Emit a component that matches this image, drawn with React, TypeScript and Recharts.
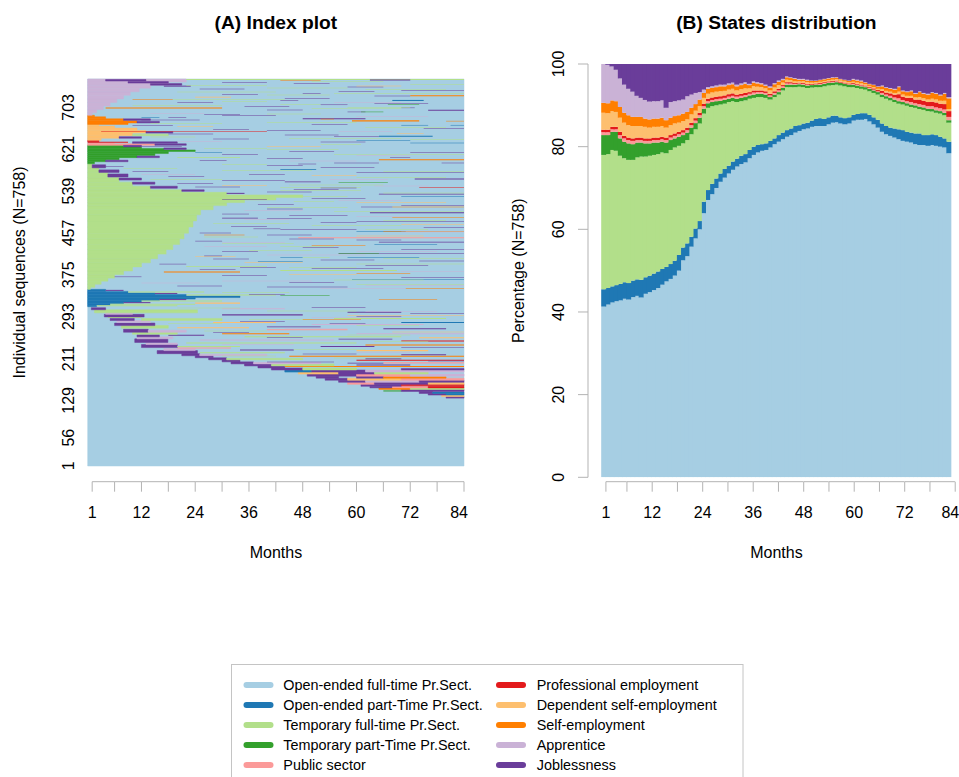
import React from 'react';
import { BarChart, Bar, ComposedChart, XAxis, YAxis, ReferenceArea } from 'recharts';

const FONT = '"Liberation Sans", Arial, Helvetica, sans-serif';
const AXIS_GREY = '#b3b3b3';

// Employment states (legend order = stacking order)
const STATES = [
  { name: 'Open-ended full-time Pr.Sect.', color: '#A6CEE3' },
  { name: 'Open-ended part-Time Pr.Sect.', color: '#1F78B4' },
  { name: 'Temporary full-time Pr.Sect.', color: '#B2DF8A' },
  { name: 'Temporary part-Time Pr.Sect.', color: '#33A02C' },
  { name: 'Public sector', color: '#FB9A99' },
  { name: 'Professional employment', color: '#E31A1C' },
  { name: 'Dependent self-employment', color: '#FDBF6F' },
  { name: 'Self-employment', color: '#FF7F00' },
  { name: 'Apprentice', color: '#CAB2D6' },
  { name: 'Joblessness', color: '#6A3D9A' },
];

const N_SEQ = 758;
const N_MONTHS = 84;
const MONTHS = Array.from({ length: N_MONTHS }, (_, i) => i + 1);
const X_TICKS = [1, 6, 12, 18, 24, 30, 36, 42, 48, 54, 60, 66, 72, 78, 84];
const X_LABELS = [1, 12, 24, 36, 48, 60, 72, 84];
const INDEX_TICKS = [1, 56, 129, 211, 293, 375, 457, 539, 621, 703];
const PCT_TICKS = [0, 20, 40, 60, 80, 100];

// ---- (B) monthly state distribution, percent of the 758 sequences ----
const OEFT = [
  41.3, 41.8, 42.3, 42.6, 42.8, 43.2, 43.0, 43.6, 43.9, 43.5,
  44.4, 44.8, 45.3, 45.8, 46.6, 47.4, 48.0, 48.8, 50.0, 52.5,
  53.5, 55.8, 57.8, 60.0, 63.9, 67.1, 68.5, 70.0, 71.5, 72.5,
  73.5, 74.4, 75.2, 75.8, 76.2, 77.2, 78.0, 78.6, 79.0, 79.2,
  79.8, 80.6, 81.2, 81.8, 82.4, 82.8, 83.4, 83.8, 84.2, 84.4,
  84.8, 85.0, 85.0, 85.0, 85.4, 85.8, 85.9, 85.6, 85.4, 85.6,
  86.3, 86.5, 86.5, 86.7, 86.1, 85.4, 84.6, 83.6, 83.0, 82.6,
  82.2, 81.8, 81.4, 81.2, 81.0, 80.6, 80.4, 80.4, 80.2, 80.4,
  80.2, 80.0, 79.8, 78.4,
];
const OEPT = [
  4.2, 4.0, 3.9, 3.9, 4.0, 4.0, 4.0, 4.0, 4.0, 4.3,
  4.0, 4.0, 4.0, 4.0, 3.8, 3.5, 3.6, 3.6, 3.8, 3.1,
  3.1, 2.4, 2.4, 2.0, 2.8, 2.4, 2.5, 2.3, 2.0, 2.1,
  1.9, 2.0, 1.9, 2.0, 2.0, 2.0, 2.0, 1.8, 1.6, 1.6,
  1.6, 1.4, 1.6, 1.6, 1.6, 1.6, 1.6, 1.4, 1.4, 1.4,
  1.5, 1.7, 1.9, 1.7, 1.7, 1.7, 1.6, 1.5, 1.5, 1.5,
  1.4, 1.4, 1.6, 1.4, 1.6, 1.7, 1.9, 2.0, 2.0, 2.0,
  2.2, 2.4, 2.6, 2.4, 2.4, 2.6, 2.8, 2.4, 2.6, 2.6,
  2.6, 2.4, 2.2, 2.8,
];
const TFT = [
  32.5, 32.4, 33.0, 32.5, 31.0, 30.0, 29.8, 29.2, 29.5, 29.8,
  29.2, 29.0, 28.7, 28.4, 28.2, 27.5, 27.6, 27.4, 26.4, 25.2,
  25.0, 24.8, 24.0, 23.6, 21.3, 19.9, 18.8, 17.7, 16.7, 15.8,
  15.4, 14.6, 13.7, 13.2, 13.0, 12.4, 11.8, 11.6, 11.4, 11.0,
  10.0, 10.0, 9.8, 10.2, 10.4, 10.0, 9.4, 9.3, 8.8, 8.4,
  8.0, 7.7, 7.5, 7.9, 7.7, 7.4, 7.5, 7.7, 7.7, 7.3,
  6.7, 6.3, 5.9, 5.7, 5.7, 5.9, 6.1, 6.4, 6.6, 6.6,
  6.4, 6.2, 6.2, 6.3, 6.2, 6.2, 5.9, 6.1, 5.8, 5.5,
  5.4, 5.6, 5.6, 4.6,
];
const TPT = [
  4.8, 4.6, 4.4, 4.6, 4.2, 4.0, 4.0, 3.8, 3.6, 3.4,
  3.2, 3.0, 3.0, 2.8, 2.6, 2.6, 2.4, 2.2, 2.2, 2.0,
  1.8, 1.6, 1.5, 1.4, 1.2, 1.1, 1.0, 1.0, 0.9, 0.9,
  0.8, 0.8, 0.8, 0.8, 0.8, 0.8, 0.8, 0.8, 0.8, 0.8,
  0.6, 0.6, 0.6, 0.6, 0.6, 0.6, 0.6, 0.6, 0.6, 0.6,
  0.6, 0.6, 0.6, 0.6, 0.6, 0.6, 0.6, 0.6, 0.6, 0.6,
  0.6, 0.6, 0.6, 0.6, 0.6, 0.6, 0.6, 0.6, 0.6, 0.6,
  0.6, 0.6, 0.6, 0.6, 0.6, 0.6, 0.6, 0.6, 0.6, 0.6,
  0.6, 0.6, 0.6, 0.6,
];
const PUB = [
  0.7, 0.7, 0.6, 0.6, 0.8, 0.8, 0.8, 0.8, 0.6, 0.6,
  0.6, 0.6, 0.6, 0.6, 0.6, 0.6, 0.6, 0.6, 0.6, 0.6,
  0.6, 0.6, 0.6, 0.6, 0.6, 0.5, 0.5, 0.5, 0.5, 0.5,
  0.5, 0.5, 0.5, 0.5, 0.5, 0.4, 0.5, 0.4, 0.4, 0.4,
  0.4, 0.4, 0.4, 0.4, 0.3, 0.3, 0.2, 0.2, 0.2, 0.2,
  0.1, 0.1, 0.2, 0.2, 0.2, 0.2, 0.2, 0.1, 0.1, 0.1,
  0.2, 0.2, 0.2, 0.2, 0.2, 0.2, 0.2, 0.4, 0.4, 0.5,
  0.5, 0.7, 0.5, 0.5, 0.6, 0.5, 0.6, 0.6, 0.6, 0.7,
  0.7, 0.7, 0.8, 0.8,
];
const PROF = [
  0.6, 0.6, 0.6, 0.6, 0.8, 0.6, 0.6, 0.6, 0.6, 0.6,
  0.6, 0.6, 0.6, 0.6, 0.6, 0.6, 0.6, 0.6, 0.6, 0.6,
  0.6, 0.6, 0.6, 0.6, 0.6, 0.6, 0.6, 0.6, 0.6, 0.6,
  0.6, 0.6, 0.5, 0.5, 0.5, 0.4, 0.5, 0.4, 0.4, 0.4,
  0.4, 0.4, 0.4, 0.3, 0.3, 0.3, 0.2, 0.2, 0.2, 0.2,
  0.2, 0.2, 0.2, 0.2, 0.2, 0.2, 0.2, 0.2, 0.2, 0.2,
  0.2, 0.2, 0.2, 0.2, 0.2, 0.3, 0.3, 0.5, 0.5, 0.6,
  0.7, 1.0, 0.8, 0.8, 1.0, 0.9, 1.1, 1.0, 1.0, 1.1,
  1.2, 1.1, 1.3, 1.4,
];
const DSE = [
  4.1, 4.0, 3.8, 3.6, 3.4, 3.2, 3.0, 3.0, 2.8, 2.8,
  2.8, 2.6, 2.6, 2.6, 2.6, 2.4, 2.4, 2.4, 2.2, 2.2,
  2.0, 2.0, 1.8, 1.6, 1.4, 1.2, 1.2, 1.2, 1.2, 1.1,
  1.1, 1.1, 1.0, 1.1, 1.1, 0.9, 1.0, 0.9, 0.8, 0.7,
  0.8, 0.9, 0.9, 0.6, 0.6, 0.5, 0.4, 0.3, 0.4, 0.4,
  0.3, 0.3, 0.3, 0.3, 0.3, 0.3, 0.3, 0.3, 0.3, 0.3,
  0.3, 0.3, 0.3, 0.3, 0.3, 0.3, 0.3, 0.4, 0.4, 0.4,
  0.4, 0.6, 0.5, 0.5, 0.5, 0.5, 0.6, 0.6, 0.6, 0.7,
  0.7, 0.7, 0.8, 0.5,
];
const SE = [
  2.4, 2.4, 2.6, 2.6, 2.6, 2.4, 2.4, 2.2, 2.2, 2.2,
  2.0, 2.0, 2.0, 2.0, 2.0, 1.8, 1.8, 1.8, 1.8, 1.8,
  1.8, 1.6, 1.6, 1.6, 1.2, 1.2, 1.1, 1.1, 1.2, 1.1,
  1.1, 1.1, 1.0, 1.0, 1.1, 0.8, 0.9, 0.8, 0.7, 0.6,
  0.7, 0.8, 0.8, 0.6, 0.6, 0.5, 0.6, 0.4, 0.4, 0.4,
  0.4, 0.3, 0.4, 0.4, 0.4, 0.4, 0.4, 0.3, 0.3, 0.3,
  0.5, 0.5, 0.5, 0.4, 0.4, 0.5, 0.5, 0.7, 0.7, 0.7,
  0.8, 1.1, 0.8, 0.9, 1.1, 0.9, 1.2, 1.1, 1.2, 1.4,
  1.4, 1.3, 1.7, 2.6,
];
const APP = [
  9.4, 9.3, 8.2, 7.6, 6.9, 6.8, 6.4, 6.1, 5.1, 4.6,
  4.5, 4.3, 4.2, 4.2, 4.2, 3.0, 3.8, 3.6, 3.6, 3.4,
  3.8, 3.2, 2.7, 1.8, 0.8, 0.4, 0.4, 0.4, 0.4, 0.4,
  0.4, 0.4, 0.4, 0.4, 0.4, 0.3, 0.3, 0.3, 0.3, 0.3,
  0.3, 0.3, 0.3, 0.3, 0.2, 0.2, 0.2, 0.2, 0.2, 0.2,
  0.1, 0.1, 0.1, 0.1, 0.1, 0.2, 0.1, 0.1, 0.1, 0.1,
  0.2, 0.2, 0.2, 0.1, 0.1, 0.1, 0.1, 0.2, 0.2, 0.2,
  0.2, 0.2, 0.2, 0.2, 0.2, 0.2, 0.2, 0.2, 0.2, 0.2,
  0.2, 0.2, 0.2, 0.3,
];
const JOB = [
  0.0, 0.2, 0.6, 1.4, 3.5, 5.0, 6.0, 6.7, 7.7, 8.2,
  8.7, 9.1, 9.0, 9.0, 8.8, 10.6, 9.2, 9.0, 8.8, 8.6,
  7.8, 7.4, 7.0, 6.8, 6.2, 5.6, 5.4, 5.2, 5.0, 5.0,
  4.7, 4.5, 5.0, 4.7, 4.4, 4.8, 4.2, 4.4, 4.6, 5.0,
  5.4, 4.6, 4.0, 3.6, 3.0, 3.2, 3.4, 3.6, 3.6, 3.8,
  4.0, 4.0, 3.8, 3.6, 3.4, 3.2, 3.2, 3.6, 3.8, 4.0,
  3.6, 3.8, 4.0, 4.4, 4.8, 5.0, 5.4, 5.2, 5.6, 5.8,
  6.0, 5.4, 6.4, 6.6, 6.4, 7.0, 6.6, 7.0, 7.2, 6.8,
  7.0, 7.4, 7.0, 8.0,
];
const SERIES = [OEFT, OEPT, TFT, TPT, PUB, PROF, DSE, SE, APP, JOB];

// ---- (A) index plot spells: [state, firstRow, lastRow, startMonth, endMonth] ----
type Spell = [number, number, number, number, number];

const BASE_SPELLS: Spell[] = [[0, 0, 758, 0, 84]];

// spells in progress at the start of the window
const ENTRY_SPELLS: Spell[] = [
  [1, 312, 315, 0, 2], [1, 315, 318, 0, 5], [1, 318, 321, 0, 8], [1, 321, 324, 0, 12], [1, 324, 327, 0, 16],
  [1, 327, 330, 0, 24], [1, 330, 333, 0, 34], [1, 333, 336, 0, 22], [1, 336, 339, 0, 15], [1, 339, 342, 0, 9],
  [1, 342, 346, 0, 4],
  [2, 346, 350, 0, 0.6], [2, 350, 356, 0, 1.6], [2, 356, 362, 0, 3], [2, 362, 368, 0, 4.5], [2, 368, 375, 0, 6],
  [2, 375, 382, 0, 8], [2, 382, 390, 0, 10], [2, 390, 398, 0, 12], [2, 398, 406, 0, 14], [2, 406, 415, 0, 15.6],
  [2, 415, 424, 0, 17.5], [2, 424, 434, 0, 19], [2, 434, 445, 0, 20.5], [2, 445, 456, 0, 21.5], [2, 456, 468, 0, 22.5],
  [2, 468, 480, 0, 23.5], [2, 480, 492, 0, 24.3], [2, 492, 502, 0, 25.2], [2, 502, 510, 0, 28], [2, 510, 516, 0, 31],
  [2, 516, 521, 0, 35], [2, 521, 526, 0, 42], [2, 526, 531, 0, 48], [2, 531, 536, 0, 31], [2, 536, 541, 0, 21],
  [2, 541, 548, 0, 14], [2, 548, 556, 0, 10], [2, 556, 565, 0, 7], [2, 565, 575, 0, 4.5], [2, 575, 584, 0, 2.5],
  [2, 584, 592, 0, 1], [2, 528, 529, 48, 58],
  [3, 592, 596, 0, 1.5], [3, 596, 600, 0, 4], [3, 600, 604, 0, 7], [3, 604, 608, 0, 11], [3, 608, 612, 0, 15],
  [3, 612, 616, 0, 18], [3, 616, 619, 0, 24], [3, 619, 622, 0, 17], [3, 622, 625, 0, 12], [3, 625, 628, 0, 8],
  [4, 628, 631, 0, 15], [4, 631, 633, 0, 6], [5, 633, 635, 0, 9], [5, 635, 638, 0, 2.5],
  [6, 638, 642, 0, 3], [6, 642, 647, 0, 7], [6, 647, 652, 0, 10], [6, 652, 657, 0, 13], [6, 657, 662, 0, 11],
  [6, 662, 666, 0, 6], [6, 666, 669, 0, 2.5],
  [7, 669, 672, 0, 9], [7, 672, 676, 0, 11], [7, 676, 680, 0, 8], [7, 680, 684, 0, 4], [7, 684, 687, 0, 1.5],
  [8, 687, 692, 0, 1], [8, 692, 698, 0, 2], [8, 698, 705, 0, 3.5], [8, 705, 712, 0, 5], [8, 712, 719, 0, 6.5],
  [8, 719, 726, 0, 8], [8, 726, 733, 0, 9.5], [8, 733, 740, 0, 11.5], [8, 740, 746, 0, 14], [8, 746, 752, 0, 18],
  [8, 752, 758, 0, 22],
];

// first spells after leaving the initial state
const FOLLOW_SPELLS: Spell[] = [
  [9, 584, 590, 1, 4], [9, 575, 580, 2.5, 7], [9, 566, 572, 4.5, 9], [9, 560, 564, 7, 12], [9, 552, 556, 10, 15],
  [9, 544, 548, 14, 20], [9, 538, 541, 21, 26], [9, 533, 535, 31, 35],
  [9, 625, 628, 8, 12], [9, 620, 623, 17, 22], [9, 604, 607, 11, 16], [9, 596, 599, 4, 9],
  [9, 628, 631, 15, 22], [9, 632, 635, 10, 20],
  [9, 642, 645, 7, 12], [9, 652, 655, 13, 19], [2, 647, 650, 10, 18],
  [9, 672, 675, 11, 16], [9, 677, 680, 8, 14],
  [9, 754, 757, 4, 13], [9, 750, 753, 9, 18], [9, 746, 749, 14, 21], [9, 743, 745, 17, 23], [2, 756, 758, 22, 84],
  [2, 313, 315, 2, 20], [2, 316, 318, 5, 24], [9, 319, 321, 8, 14], [2, 322, 324, 12, 30], [9, 325, 327, 16, 22],
  [6, 318, 320, 24, 34], [2, 334, 336, 22, 42], [9, 337, 339, 15, 20], [2, 340, 342, 9, 26], [9, 343, 345, 4, 8],
];

// sequences leaving open-ended full-time employment
const EXIT_SPELLS: Spell[] = [
  [9, 133, 136, 80, 84], [6, 136, 139, 79, 84], [9, 139, 142, 76, 80], [1, 139, 142, 80, 84],
  [9, 142, 146, 74, 77], [1, 142, 145, 77, 84], [3, 146, 148, 66, 70], [9, 146, 150, 70, 84],
  [7, 150, 153, 65, 72], [2, 150, 153, 72, 84], [9, 153, 156, 63, 68], [4, 153, 156, 68, 76], [5, 153, 156, 76, 84],
  [9, 156, 160, 61, 70], [5, 157, 160, 70, 84], [4, 160, 164, 58, 64], [9, 160, 164, 64, 76], [6, 160, 164, 76, 84],
  [9, 164, 168, 56, 62], [8, 164, 168, 62, 74], [9, 164, 168, 74, 84], [9, 168, 172, 53, 58], [6, 168, 172, 58, 70],
  [4, 168, 172, 70, 84], [9, 172, 176, 51, 56], [9, 172, 176, 60, 66], [7, 172, 175, 66, 80],
  [9, 176, 180, 49, 60], [4, 176, 180, 60, 72], [8, 176, 180, 72, 84], [6, 180, 184, 47, 56], [9, 180, 184, 56, 64],
  [2, 180, 184, 64, 76], [1, 184, 188, 44, 50], [9, 184, 188, 50, 62], [8, 184, 188, 62, 84],
  [9, 188, 192, 41, 48], [2, 188, 192, 48, 60], [9, 188, 191, 70, 84], [9, 192, 196, 38, 44], [7, 194, 196, 44, 84],
  [9, 196, 200, 35, 41], [2, 196, 200, 41, 55], [9, 197, 199, 60, 72],
  [9, 200, 204, 32, 37], [8, 200, 203, 37, 52], [4, 201, 203, 66, 84], [9, 204, 208, 30, 34], [5, 206, 208, 60, 84],
  [9, 208, 212, 27, 31], [2, 208, 211, 31, 48], [9, 209, 211, 62, 70], [9, 212, 216, 24, 28], [7, 214, 216, 45, 84],
  [9, 216, 220, 21, 25], [8, 216, 219, 25, 40], [9, 217, 219, 70, 80],
  [9, 220, 226, 15.5, 24.5], [8, 226, 230, 17, 24], [2, 221, 223, 25, 44], [6, 225, 227, 60, 76], [9, 226, 228, 34, 46],
  [4, 230, 232, 20, 32], [9, 232, 238, 12, 20], [8, 238, 241, 13, 20], [2, 233, 235, 20, 34], [9, 233, 235, 52, 64],
  [7, 236, 238, 62, 84], [2, 240, 242, 22, 60], [9, 242, 249, 10.5, 17.9], [8, 249, 253, 11, 19], [9, 253, 257, 11, 16],
  [5, 244, 246, 70, 84], [8, 246, 248, 25, 55], [6, 250, 252, 74, 84],
  [2, 252, 254, 35, 70], [9, 255, 257, 18, 26], [2, 258, 262, 10, 20],
  [7, 258, 260, 30, 45], [8, 258, 260, 60, 84], [9, 262, 268, 8, 13.5], [8, 262, 266, 13.5, 22], [4, 266, 268, 40, 58],
  [9, 268, 270, 66, 80], [2, 270, 275, 7.5, 18], [6, 270, 272, 20, 36],
  [9, 275, 280, 6, 15], [8, 276, 278, 50, 75], [6, 280, 282, 28, 42], [1, 280, 282, 70, 84], [8, 281, 285, 6.5, 14],
  [9, 285, 289, 5, 10.4], [2, 285, 289, 12, 30], [2, 288, 290, 55, 80], [2, 290, 292, 4.5, 12],
  [9, 292, 297, 3.7, 12.6], [8, 297, 300, 4, 10], [9, 295, 297, 30, 48], [2, 300, 306, 1.5, 24.5], [9, 300, 302, 58, 70],
  [9, 306, 310, 0.8, 4], [8, 307, 309, 30, 44],
  [9, 203, 204, 40, 55], [2, 211, 212, 55, 70], [9, 219, 220, 48, 60], [2, 228, 229, 46, 62], [8, 238, 239, 30, 46],
  [9, 248, 249, 56, 68], [2, 264, 265, 26, 40], [9, 272, 273, 40, 52], [2, 278, 279, 18, 30], [9, 283, 284, 34, 44],
  [8, 291, 292, 50, 70], [9, 298, 299, 72, 84], [2, 303, 304, 40, 60], [9, 310, 311, 50, 62], [6, 262, 263, 68, 84],
  [9, 205, 206, 76, 84],
  [9, 201, 202, 58, 66], [2, 215, 216, 30, 42], [8, 222, 223, 60, 72], [9, 231, 232, 70, 84], [2, 243, 244, 64, 76],
  [9, 251, 252, 40, 48], [2, 256, 257, 58, 72], [9, 261, 262, 28, 36], [8, 269, 270, 44, 58], [2, 274, 275, 60, 74],
  [9, 279, 280, 54, 62], [2, 287, 288, 36, 50], [9, 293, 294, 60, 70], [8, 302, 303, 62, 78], [2, 309, 310, 20, 34],
];

// short interruptions scattered over the later months
const SCATTER_SPELLS: Spell[] = [
  [7, 755, 756, 43, 52], [9, 755, 757, 63, 72], [2, 747, 748, 72, 84], [9, 724, 725, 64, 72], [7, 724, 726, 72, 84],
  [9, 715, 716, 43, 47], [1, 715, 717, 68, 75], [2, 707, 708, 43, 52], [9, 707, 708, 52, 58], [3, 707, 708, 67, 74],
  [9, 701, 702, 70, 73], [9, 696, 698, 76, 84], [9, 693, 694, 58, 62], [3, 693, 694, 61, 66], [9, 679, 681, 48, 62],
  [7, 679, 680, 52, 55], [7, 675, 677, 59, 74], [7, 675, 676, 80, 84], [1, 667, 668, 70, 76], [1, 667, 668, 81, 84],
  [9, 661, 662, 75, 84], [6, 651, 652, 69, 75], [1, 645, 647, 65, 77], [9, 645, 646, 55, 65], [1, 632, 633, 72, 84],
  [2, 629, 630, 52, 61], [9, 604, 605, 67.5, 72], [7, 599, 601, 65, 84], [9, 593, 594, 55, 65], [9, 593, 594, 79, 84],
  [9, 591, 592, 47, 51], [1, 580, 581, 43, 51], [8, 561, 562, 54, 67], [9, 561, 563, 73, 84], [3, 555, 556, 56, 67],
  [2, 545, 546, 43, 61], [9, 544, 545, 52, 60], [5, 545, 546, 74, 84], [2, 539, 540, 43, 61], [9, 532, 533, 65, 84],
  [9, 507, 508, 61, 68], [7, 507, 508, 68, 84], [9, 495, 497, 63, 84], [7, 486, 487, 68, 84], [9, 463, 464, 43, 60],
  [1, 459, 460, 60, 71], [7, 459, 460, 66, 84], [4, 446, 448, 47, 84], [9, 438, 439, 65, 84], [2, 429, 430, 43, 55],
  [9, 416, 417, 56, 84], [3, 416, 417, 56, 65], [1, 408, 409, 43, 48], [2, 408, 409, 48, 54], [1, 408, 409, 58, 74],
  [9, 401, 402, 74, 84], [2, 382, 384, 43, 69], [1, 365, 366, 59, 84], [8, 347, 348, 52, 71], [7, 347, 348, 71, 84],
  [3, 334, 335, 43, 54], [7, 326, 327, 65, 78], [6, 295, 296, 58, 84], [7, 286, 287, 48, 61],
  [7, 379, 381, 17, 34], [9, 370, 371, 6, 12], [1, 400, 401, 38, 48], [9, 464, 465, 37, 43], [8, 430, 431, 26, 40],
  [9, 420, 421, 30, 38], [2, 390, 391, 22, 40], [6, 410, 411, 24, 33], [9, 395, 396, 16, 22], [8, 358, 359, 12, 25],
  [9, 352, 353, 20, 30], [2, 340, 341, 30, 45], [9, 336, 337, 36, 44], [9, 485, 486, 30, 38], [8, 500, 501, 35, 48],
  [9, 512, 513, 38, 46], [2, 518, 519, 46, 55], [7, 452, 453, 26, 35], [9, 440, 441, 24, 30], [2, 475, 476, 28, 45],
  [7, 718, 719, 10, 19], [2, 718, 719, 19, 44], [7, 700, 702, 4, 30], [9, 682, 683, 18, 22], [1, 682, 683, 12, 16],
  [9, 677, 678, 12, 25], [9, 666, 667, 10, 19], [5, 655, 656, 3, 40], [9, 626, 627, 12, 21], [1, 613, 614, 24, 30],
  [1, 637, 638, 60, 72], [9, 729, 730, 48, 52], [9, 742, 743, 58, 66],
  [9, 586, 587, 3, 8], [2, 582, 583, 8, 20], [9, 577, 578, 10, 18], [8, 570, 571, 12, 24], [9, 566, 567, 18, 26],
  [2, 560, 561, 14, 30], [9, 553, 554, 20, 28], [6, 549, 550, 30, 40], [9, 546, 547, 24, 34],
  [2, 745, 746, 22, 40], [9, 738, 739, 25, 35], [2, 732, 733, 20, 42], [9, 727, 728, 30, 38], [6, 722, 723, 24, 32],
  [9, 712, 713, 20, 28], [2, 706, 707, 10, 30], [8, 690, 691, 14, 26], [9, 688, 689, 26, 34], [2, 670, 671, 14, 30],
  [6, 664, 665, 20, 28], [9, 650, 651, 18, 28], [2, 644, 645, 14, 24], [9, 640, 641, 28, 36], [8, 635, 636, 20, 30],
  [2, 622, 623, 26, 40], [9, 610, 611, 30, 38], [2, 604, 605, 20, 34], [9, 598, 599, 25, 31],
  [9, 350, 351, 40, 58], [2, 355, 356, 60, 84], [8, 362, 363, 30, 50], [9, 368, 369, 70, 84], [6, 374, 375, 45, 60],
  [9, 386, 387, 50, 66], [2, 395, 396, 60, 84], [9, 405, 406, 28, 36], [8, 413, 414, 40, 62], [9, 424, 425, 70, 84],
  [2, 435, 436, 30, 46], [9, 444, 445, 45, 55], [6, 450, 451, 60, 75], [9, 456, 457, 25, 32], [2, 470, 471, 50, 70],
  [9, 478, 479, 60, 84], [8, 482, 483, 35, 45], [9, 490, 491, 45, 58], [2, 498, 499, 55, 84], [9, 503, 504, 40, 48],
  [6, 515, 516, 60, 80], [9, 524, 525, 50, 62], [1, 527, 528, 70, 84], [9, 389, 390, 34, 42], [7, 432, 433, 50, 62],
  [9, 467, 468, 75, 84],
  [9, 536, 537, 40, 50], [2, 550, 551, 45, 66], [9, 558, 559, 30, 44], [6, 568, 569, 50, 60], [9, 574, 575, 60, 84],
  [2, 579, 580, 30, 50], [9, 588, 589, 40, 48], [8, 597, 598, 45, 60], [2, 609, 610, 55, 84], [9, 616, 617, 45, 55],
  [6, 626, 627, 40, 52], [2, 641, 642, 45, 70], [9, 657, 658, 40, 52], [2, 672, 673, 40, 60], [9, 686, 687, 30, 42],
  [2, 699, 700, 50, 70], [9, 704, 705, 35, 45], [8, 711, 712, 55, 70], [2, 729, 730, 55, 84], [9, 735, 736, 70, 84],
  [2, 740, 741, 40, 58], [9, 751, 752, 30, 40], [6, 744, 745, 60, 70],
  [8, 353, 354, 62, 84], [9, 359, 360, 45, 55], [2, 364, 365, 55, 75], [9, 372, 373, 30, 40], [7, 377, 378, 60, 72],
  [8, 381, 382, 70, 84], [9, 384, 385, 25, 33], [2, 388, 389, 45, 60], [9, 392, 393, 62, 76], [6, 398, 399, 35, 48],
  [9, 403, 404, 52, 64], [2, 406, 407, 66, 84], [9, 411, 412, 26, 30], [8, 419, 420, 60, 78], [2, 422, 423, 36, 50],
  [9, 427, 428, 48, 56], [1, 433, 434, 64, 78], [8, 437, 438, 30, 44], [9, 442, 443, 60, 70], [2, 448, 449, 26, 38],
  [9, 452, 453, 40, 50], [8, 458, 459, 70, 84], [2, 462, 463, 62, 76], [9, 469, 470, 32, 40], [6, 473, 474, 70, 84],
  [9, 476, 477, 52, 60], [2, 480, 481, 66, 80], [9, 484, 485, 40, 50], [8, 488, 489, 60, 72], [9, 493, 494, 30, 36],
  [2, 506, 507, 40, 58], [9, 510, 511, 70, 84], [8, 520, 521, 56, 70], [9, 522, 523, 30, 40],
  [2, 534, 535, 66, 84], [9, 541, 542, 46, 56], [8, 548, 549, 64, 76], [9, 556, 557, 44, 52], [2, 564, 565, 60, 80],
  [9, 571, 572, 36, 44], [2, 576, 577, 66, 84], [9, 584, 585, 52, 64], [2, 590, 591, 30, 40], [9, 602, 603, 40, 48],
  [8, 607, 608, 60, 72], [9, 613, 614, 72, 84], [2, 619, 620, 40, 56], [9, 634, 635, 52, 62], [2, 639, 640, 72, 84],
  [9, 648, 649, 44, 56], [8, 654, 655, 56, 68], [9, 659, 660, 28, 36], [2, 663, 664, 62, 80], [9, 669, 670, 50, 58],
  [8, 684, 685, 60, 76], [2, 689, 690, 40, 52], [9, 697, 698, 40, 48], [2, 702, 703, 58, 72], [9, 710, 711, 64, 76],
  [2, 714, 715, 30, 40], [9, 720, 721, 44, 54], [2, 726, 727, 40, 54], [9, 733, 734, 56, 64], [2, 737, 738, 62, 80],
  [9, 748, 749, 46, 54], [2, 753, 754, 50, 66],
];

const ALL_SPELLS: Spell[] = [...BASE_SPELLS, ...ENTRY_SPELLS, ...FOLLOW_SPELLS, ...EXIT_SPELLS, ...SCATTER_SPELLS];

const distributionRows = MONTHS.map((m, i) => {
  const row: Record<string, number> = { month: m };
  SERIES.forEach((s, k) => {
    row[`s${k}`] = s[i];
  });
  return row;
});

// bottom axis drawn in base-graphics style: short grey line from first to last tick
function monthTick(lineOffset: number, pxPerMonth: number) {
  return (props: any) => {
    const { x, y, payload } = props;
    const v = payload.value as number;
    const k = X_TICKS.indexOf(v);
    const next = X_TICKS[k + 1];
    const ly = y + lineOffset;
    const last = v === N_MONTHS;
    return (
      <g>
        {next !== undefined && (
          <line x1={x} x2={x + (next - v) * pxPerMonth} y1={ly} y2={ly} stroke={AXIS_GREY} strokeWidth={1} />
        )}
        <line x1={x} x2={x} y1={ly} y2={ly + 10} stroke={AXIS_GREY} strokeWidth={1} />
        {X_LABELS.includes(v) && (
          <text
            x={last ? x + 4 : x}
            y={ly + 36.6}
            textAnchor={last ? 'end' : 'middle'}
            fontSize={16}
            fill="#000"
            fontFamily={FONT}
          >
            {v}
          </text>
        )}
      </g>
    );
  };
}

function rotatedTick(labelOf: (v: number) => string) {
  return (props: any) => {
    const { x, y, payload } = props;
    return (
      <text
        x={x}
        y={y}
        transform={`rotate(-90 ${x} ${y})`}
        textAnchor="middle"
        dy="0.36em"
        fontSize={16}
        fill="#000"
        fontFamily={FONT}
      >
        {labelOf(payload.value)}
      </text>
    );
  };
}

// bars of the month columns touch each other, without hairline gaps
function MonthColumn(props: any) {
  const { x, y, width, height, fill } = props;
  if (!height || height <= 0) return null;
  return <rect x={x - 0.5} y={y} width={width + 1} height={height} fill={fill} />;
}

function IndexPlot() {
  const W = 480;
  const H = 600;
  const margin = { top: 79, right: 16, bottom: 74, left: 0 };
  const yWidth = 87.7;
  const plotW = W - margin.right - margin.left - yWidth;
  return (
    <ComposedChart width={W} height={H} margin={margin} data={[]}>
      <XAxis
        type="number"
        dataKey="month"
        domain={[0, N_MONTHS]}
        ticks={X_TICKS}
        interval={0}
        allowDataOverflow
        height={60}
        tickSize={0}
        tickMargin={0}
        tickLine={false}
        axisLine={false}
        tick={monthTick(15.7, plotW / N_MONTHS)}
      />
      <YAxis
        type="number"
        domain={[0, N_SEQ]}
        ticks={INDEX_TICKS.map((t) => t - 0.5)}
        interval={0}
        allowDataOverflow
        width={yWidth}
        tickSize={0}
        tickMargin={19.4}
        tickLine={false}
        axisLine={false}
        tick={rotatedTick((v) => String(Math.round(v + 0.5)))}
      />
      {ALL_SPELLS.map(([s, r0, r1, m0, m1], i) => (
        <ReferenceArea
          key={i}
          x1={m0}
          x2={m1}
          y1={r0}
          y2={r1}
          fill={STATES[s].color}
          fillOpacity={1}
          stroke={r1 - r0 >= 3 ? STATES[s].color : 'none'}
          strokeWidth={0.5}
          ifOverflow="visible"
        />
      ))}
    </ComposedChart>
  );
}

function DistributionPlot() {
  const W = 490;
  const H = 600;
  const margin = { top: 64, right: 19, bottom: 62.7, left: 0 };
  const yWidth = 108;
  const pad = 13.7;
  const plotW = W - margin.right - margin.left - yWidth - pad;
  return (
    <BarChart width={W} height={H} data={distributionRows} margin={margin} barCategoryGap={0} barGap={0}>
      <XAxis dataKey="month" type="category" hide height={0} padding={{ left: pad, right: 0 }} />
      <XAxis
        xAxisId="months"
        type="number"
        domain={[0, N_MONTHS]}
        ticks={X_TICKS}
        interval={0}
        allowDataOverflow
        padding={{ left: pad, right: 0 }}
        height={60}
        tickSize={0}
        tickMargin={0}
        tickLine={false}
        axisLine={false}
        tick={monthTick(4.4, plotW / N_MONTHS)}
      />
      <YAxis
        type="number"
        domain={[0, 100]}
        ticks={PCT_TICKS}
        interval={0}
        allowDataOverflow
        width={yWidth}
        tickSize={10}
        tickMargin={20}
        axisLine={{ stroke: AXIS_GREY }}
        tickLine={{ stroke: AXIS_GREY }}
        tick={rotatedTick((v) => String(v))}
      />
      {STATES.map((s, k) => (
        <Bar
          key={s.name}
          dataKey={`s${k}`}
          stackId="states"
          fill={s.color}
          shape={MonthColumn}
          isAnimationActive={false}
        />
      ))}
    </BarChart>
  );
}

function Legend() {
  const rows = 5;
  return (
    <g fontFamily={FONT}>
      <rect x={231.5} y={664.5} width={511.5} height={160} fill="none" stroke="#c4c4c4" strokeWidth={1} />
      {STATES.map((s, i) => {
        const col = Math.floor(i / rows);
        const r = i % rows;
        const cy = 685 + r * 20;
        const sx = col === 0 ? 243.5 : 496;
        const tx = col === 0 ? 283.3 : 536.7;
        return (
          <g key={s.name}>
            <line x1={sx + 3} x2={sx + 27} y1={cy} y2={cy} stroke={s.color} strokeWidth={6} strokeLinecap="round" />
            <text x={tx} y={cy} dy="0.36em" fontSize={14.4} fill="#000">
              {s.name}
            </text>
          </g>
        );
      })}
    </g>
  );
}

export default function App() {
  return (
    <div
      style={{
        position: 'absolute',
        left: 0,
        top: 0,
        width: 959,
        height: 777,
        background: '#fff',
        overflow: 'hidden',
        fontFamily: FONT,
      }}
    >
      <svg width={959} height={777} style={{ position: 'absolute', left: 0, top: 0 }}>
        <g fontFamily={FONT} fill="#000">
          <text x={275.9} y={29} textAnchor="middle" fontSize={19.2} fontWeight="bold">
            (A) Index plot
          </text>
          <text x={776.4} y={29} textAnchor="middle" fontSize={19.2} fontWeight="bold">
            (B) States distribution
          </text>
          <text x={275.9} y={558} textAnchor="middle" fontSize={16}>
            Months
          </text>
          <text x={776.4} y={558} textAnchor="middle" fontSize={16}>
            Months
          </text>
          <text x={19} y={272.5} transform="rotate(-90 19 272.5)" textAnchor="middle" dy="0.36em" fontSize={16}>
            Individual sequences (N=758)
          </text>
          <text x={518} y={270.7} transform="rotate(-90 518 270.7)" textAnchor="middle" dy="0.36em" fontSize={16}>
            Percentage (N=758)
          </text>
        </g>
        <Legend />
      </svg>
      <div style={{ position: 'absolute', left: 0, top: 0 }}>
        <IndexPlot />
      </div>
      <div style={{ position: 'absolute', left: 480, top: 0 }}>
        <DistributionPlot />
      </div>
    </div>
  );
}
